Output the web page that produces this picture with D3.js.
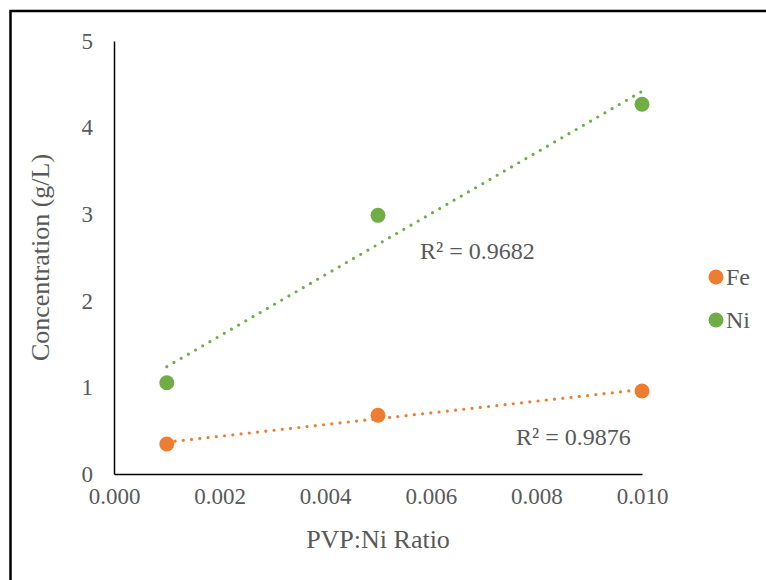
<!DOCTYPE html>
<html>
<head>
<meta charset="utf-8">
<script src="https://cdn.jsdelivr.net/npm/d3@7"></script>
<style>
  html, body { margin: 0; padding: 0; background: #fff; }
  svg { display: block; }
  text { font-family: "Liberation Serif", "Times New Roman", serif; fill: #595959; }
</style>
</head>
<body>
<svg id="chart" width="766" height="580"></svg>
<script>
// PVP:Ni ratio (x) vs. measured concentration (g/L)
const ratios = [0.001, 0.005, 0.010];
const feValues = [0.346, 0.678, 0.958];
const niValues = [1.054, 2.987, 4.270];
const xTicks = [0.000, 0.002, 0.004, 0.006, 0.008, 0.010];
const yTicks = [0, 1, 2, 3, 4, 5];
const seriesNames = ["Fe", "Ni"];
const seriesColors = ["#ED7D31", "#70AD47"];
const r2Labels = ["R² = 0.9876", "R² = 0.9682"];

const svg = d3.select("#chart");

// outer chart frame (only left and top edges fall inside the view)
svg.append("rect")
  .attr("x", 10.5).attr("y", 11)
  .attr("width", 800).attr("height", 620)
  .attr("fill", "none").attr("stroke", "#000").attr("stroke-width", 2.5);

const plot = { left: 114, right: 642, top: 41, bottom: 474 };
const x = d3.scaleLinear().domain([0, 0.010]).range([plot.left, plot.right]);
const y = d3.scaleLinear().domain([0, 5]).range([plot.bottom, plot.top]);

// axes
const xAxis = d3.axisBottom(x).tickValues(xTicks).tickFormat(d3.format(".3f")).tickSize(0).tickPadding(14);
const yAxis = d3.axisLeft(y).tickValues(yTicks).tickFormat(d3.format("d")).tickSize(0).tickPadding(21);

const gx = svg.append("g").attr("transform", `translate(0,${plot.bottom})`).call(xAxis);
const gy = svg.append("g").attr("transform", `translate(${plot.left},0)`).call(yAxis);
[gx, gy].forEach(g => {
  g.select(".domain").attr("stroke", "#000").attr("stroke-width", 1.5);
  g.selectAll("text").style("font-family", '"Liberation Serif", serif')
    .style("font-size", "23px").attr("fill", "#595959");
});

// axis titles
svg.append("text")
  .attr("x", (plot.left + plot.right) / 2).attr("y", 548)
  .attr("text-anchor", "middle").style("font-size", "26px")
  .text("PVP:Ni Ratio");
svg.append("text")
  .attr("transform", `translate(49,${(plot.top + plot.bottom) / 2}) rotate(-90)`)
  .attr("text-anchor", "middle").style("font-size", "26px")
  .text("Concentration (g/L)");

// least-squares linear fit
function linFit(xs, ys) {
  const mx = d3.mean(xs), my = d3.mean(ys);
  let sxy = 0, sxx = 0;
  for (let i = 0; i < xs.length; i++) { sxy += (xs[i] - mx) * (ys[i] - my); sxx += (xs[i] - mx) ** 2; }
  const m = sxy / sxx;
  return { m, b: my - m * mx };
}

const series = [feValues, niValues];
series.forEach((vals, si) => {
  const fit = linFit(ratios, vals);
  const x0 = d3.min(ratios), x1 = d3.max(ratios);
  const line = d3.line().x(d => x(d[0])).y(d => y(d[1]));
  svg.append("path")
    .datum([[x0, fit.m * x0 + fit.b], [x1, fit.m * x1 + fit.b]])
    .attr("d", line)
    .attr("fill", "none")
    .attr("stroke", seriesColors[si])
    .attr("stroke-width", 3.2)
    .attr("stroke-linecap", "round")
    .attr("stroke-dasharray", "0 8.3");
});

series.forEach((vals, si) => {
  svg.append("g").selectAll("circle")
    .data(vals.map((v, i) => [ratios[i], v]))
    .join("circle")
    .attr("cx", d => x(d[0]))
    .attr("cy", d => y(d[1]))
    .attr("r", 7.5)
    .attr("fill", seriesColors[si]);
});

// R² annotations
svg.append("text").attr("x", 516).attr("y", 445).style("font-size", "24px").text(r2Labels[0]);
svg.append("text").attr("x", 420).attr("y", 259).style("font-size", "24px").text(r2Labels[1]);

// legend
const legend = svg.append("g");
seriesNames.forEach((name, i) => {
  const ly = 277 + i * 43;
  legend.append("circle").attr("cx", 716).attr("cy", ly).attr("r", 7.5).attr("fill", seriesColors[i]);
  legend.append("text").attr("x", 726).attr("y", ly + 8).style("font-size", "24px").text(name);
});
</script>
</body>
</html>
